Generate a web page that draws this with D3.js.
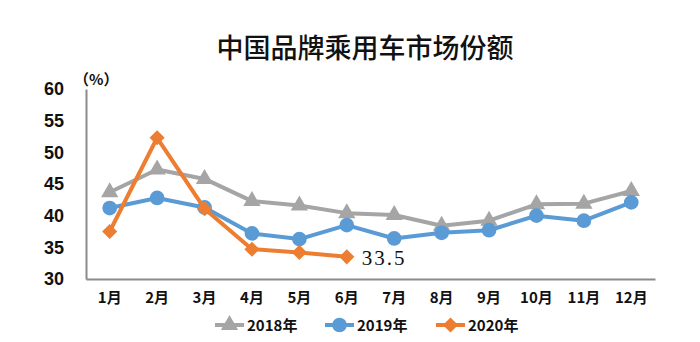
<!DOCTYPE html>
<html><head><meta charset="utf-8">
<script src="https://cdn.jsdelivr.net/npm/d3@7"></script>
<style>body{margin:0;background:#fff}svg{display:block}</style>
</head><body>
<script>
const months = ["1月","2月","3月","4月","5月","6月","7月","8月","9月","10月","11月","12月"];
const s2018 = [43.7,47.3,45.8,42.3,41.6,40.4,40.1,38.4,39.2,41.8,41.9,43.9];
const s2019 = [41.2,42.8,41.3,37.2,36.3,38.5,36.4,37.3,37.7,40.0,39.2,42.1];
const s2020 = [37.5,52.3,41.1,34.7,34.2,33.5];
const yTicks = [30,35,40,45,50,55,60];
const seriesNames = ["2018年","2019年","2020年"];
const title = "中国品牌乘用车市场份额";

const W=700,H=342;
const svg=d3.select("body").append("svg").attr("width",W).attr("height",H);
const x=d3.scaleBand().domain(months).range([86,655]);
const y=d3.scaleLinear().domain([30,60]).range([279,89]);
const cx=m=>x(m)+x.bandwidth()/2;

svg.append("text").attr("x",365).attr("y",58).attr("text-anchor","middle")
  .attr("font-family","Noto Sans CJK SC").attr("font-size",27).attr("font-weight",500)
  .attr("fill","#111").text(title);

// axes
const yAxis=svg.append("g").attr("transform","translate(86,0)")
  .call(d3.axisLeft(y).tickValues(yTicks).tickSize(0).tickPadding(22));
yAxis.select(".domain").attr("stroke","#8a8a8a").attr("stroke-width",2);
yAxis.selectAll("text").attr("font-family","Liberation Sans Narrow, Liberation Sans").attr("font-weight","bold")
  .attr("font-size",18).attr("fill","#111");
const xAxis=svg.append("g").attr("transform","translate(0,279)")
  .call(d3.axisBottom(x).tickSize(0).tickPadding(13));
xAxis.select(".domain").attr("stroke","#8a8a8a").attr("stroke-width",2);
xAxis.selectAll("text").attr("font-family","Noto Sans CJK SC").attr("font-weight","bold")
  .attr("font-size",15).attr("fill","#111");

svg.append("text").attr("x",74).attr("y",85).attr("font-family","Noto Sans CJK SC")
  .attr("font-weight","bold").attr("font-size",15).attr("fill","#111").text("（%）");

const colors=["#A5A5A5","#5B9BD5","#ED7D31"];
const data=[s2018,s2019,s2020];
const line=d3.line().x((d,i)=>cx(months[i])).y(d=>y(d));
const tri=d3.symbol().type(d3.symbolTriangle).size(130);
const circ=d3.symbol().type(d3.symbolCircle).size(170);
const dia=d3.symbol().type(d3.symbolSquare).size(115);
const syms=[tri,circ,dia];
const rot=[0,0,45];

data.forEach((s,k)=>{
  svg.append("path").attr("d",line(s)).attr("fill","none").attr("stroke",colors[k])
    .attr("stroke-width",4).attr("stroke-linejoin","round");
  svg.selectAll(null).data(s).enter().append("path")
    .attr("d",syms[k]())
    .attr("transform",(d,i)=>`translate(${cx(months[i])},${y(d)}) rotate(${rot[k]})`)
    .attr("fill",colors[k]);
});

const last=s2020.length-1;
svg.append("text").attr("x",cx(months[last])+15).attr("y",y(s2020[last])+8)
  .attr("font-family","Liberation Serif").attr("font-size",21).attr("letter-spacing",2).attr("fill","#111")
  .text(s2020[last].toFixed(1));

// legend
const lx=[215,325,436];
seriesNames.forEach((n,k)=>{
  const g=svg.append("g").attr("transform",`translate(${lx[k]},325)`);
  g.append("line").attr("x1",0).attr("x2",29).attr("stroke",colors[k]).attr("stroke-width",4);
  g.append("path").attr("d",syms[k]()).attr("transform",`translate(14.5,0) rotate(${rot[k]})`).attr("fill",colors[k]);
  g.append("text").attr("x",32).attr("y",5.5).attr("font-family","Noto Sans CJK SC")
    .attr("font-weight","bold").attr("font-size",15).attr("fill","#111").text(n);
});
</script>
</body></html>
